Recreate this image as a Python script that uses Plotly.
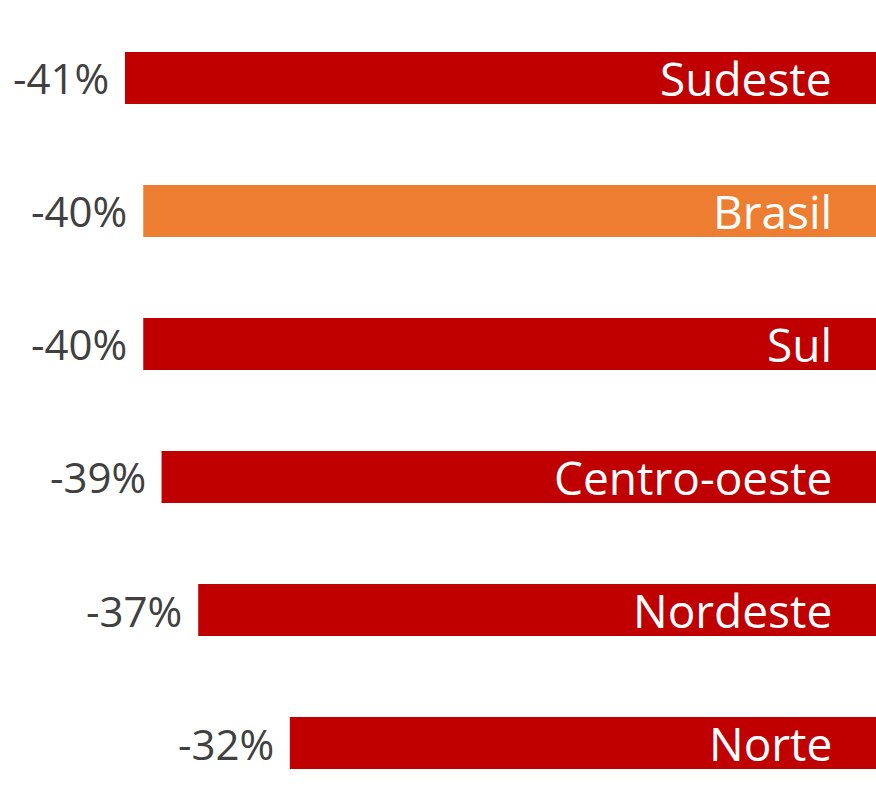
import plotly.graph_objects as go

regions = ["Sudeste", "Brasil", "Sul", "Centro-oeste", "Nordeste", "Norte"]
values = [-41, -40, -40, -39, -37, -32]
value_labels = ["-41%", "-40%", "-40%", "-39%", "-37%", "-32%"]
colors = ["#C00000", "#ED7D31", "#C00000", "#C00000", "#C00000", "#C00000"]

fig = go.Figure()
fig.add_trace(go.Bar(
    x=values, y=regions, orientation="h",
    marker=dict(color=colors, line=dict(width=0)),
    width=0.39, hoverinfo="skip",
))

annotations = []
for r, v, lab in zip(regions, values, value_labels):
    annotations.append(dict(
        x=v, y=r, xref="x", yref="y", text=lab, showarrow=False,
        xanchor="right", yanchor="middle", xshift=-14,
        font=dict(family="Open Sans", size=42, color="#404040"),
    ))
    annotations.append(dict(
        x=0, y=r, xref="x", yref="y", text=r, showarrow=False,
        xanchor="right", yanchor="middle", xshift=-42,
        font=dict(family="Open Sans", size=46, color="#FFFFFF"),
    ))

fig.update_layout(
    width=876, height=805,
    margin=dict(l=0, r=0, t=0, b=0),
    paper_bgcolor="white", plot_bgcolor="white",
    showlegend=False,
    xaxis=dict(range=[-47.82, 0], visible=False, fixedrange=True),
    yaxis=dict(range=[5.466, -0.586], visible=False, type="category", fixedrange=True),
    annotations=annotations,
)

fig.write_html(
    "out.html",
    config={"displayModeBar": False},
    post_script="document.body.style.margin='0';document.body.style.overflow='hidden';",
)
